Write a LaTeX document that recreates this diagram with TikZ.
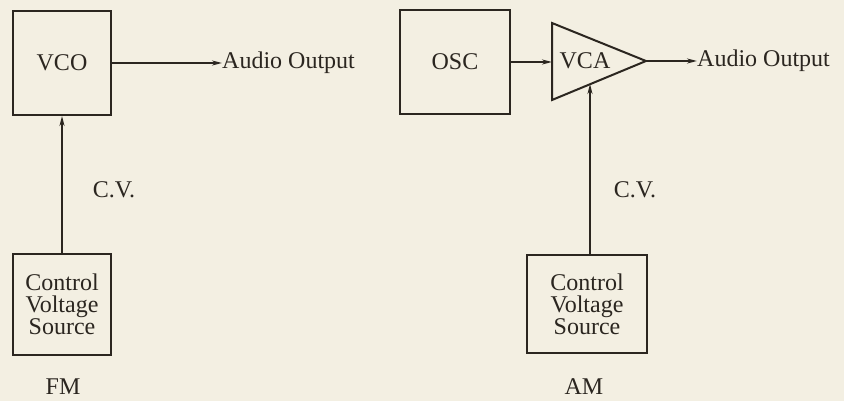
\documentclass[tikz,border=0pt]{standalone}
\usepackage{fontspec}
\setmainfont{Liberation Serif}
\usetikzlibrary{arrows.meta}
\definecolor{paper}{HTML}{F3EFE2}
\definecolor{ink}{HTML}{2B2620}
\begin{document}
\begin{tikzpicture}[x=1pt,y=-1pt,
  box/.style={draw=ink,line width=2pt,rectangle,inner sep=0pt,text=ink,font=\fontsize{24}{22}\selectfont,align=center},
  lbl/.style={text=ink,font=\fontsize{24}{22}\selectfont,inner sep=0pt},
  conn/.style={draw=ink,line width=1.6pt,-{Stealth[length=10pt,width=5pt]}},
  plain/.style={draw=ink,line width=1.6pt}]
\fill[paper] (0,0) rectangle (844,401);
\useasboundingbox (0,0) rectangle (844,401);
% FM
\node[box,minimum width=98pt,minimum height=104pt] (vco) at (62,63) {VCO};
\node[lbl,anchor=west] (ao1) at (222,63) {Audio Output};
\node[box,minimum width=98pt,minimum height=101pt] (cvs1) at (62,304.5) {Control\\Voltage\\Source};
\node[lbl] (cv1) at (114,190) {C.V.};
\node[lbl] (fm) at (63,387) {FM};
\draw[conn] (vco.east) -- (ao1.west);
\draw[conn] (cvs1.north) -- (vco.south);
% AM
\node[box,minimum width=110pt,minimum height=104pt] (osc) at (455,62) {OSC};
\coordinate (vtop) at (552,23);
\coordinate (vbot) at (552,100);
\coordinate (vapex) at (646,61);
\coordinate (vin) at (552,62);
\draw[ink,line width=2pt,line join=miter] (vtop) -- (vapex) -- (vbot) -- cycle;
\node[lbl] (vca) at (585,61) {VCA};
\node[lbl,anchor=west] (ao2) at (697,61) {Audio Output};
\node[box,minimum width=120pt,minimum height=98pt] (cvs2) at (587,304) {Control\\Voltage\\Source};
\coordinate (vcv) at (590,84);
\node[lbl] (cv2) at (635,190) {C.V.};
\node[lbl] (am) at (584,387) {AM};
\draw[conn] (osc.east) -- (vin);
\draw[conn] (vapex) -- (ao2.west);
\draw[conn] (cvs2.north -| vcv) -- (vcv);
\end{tikzpicture}
\end{document}
